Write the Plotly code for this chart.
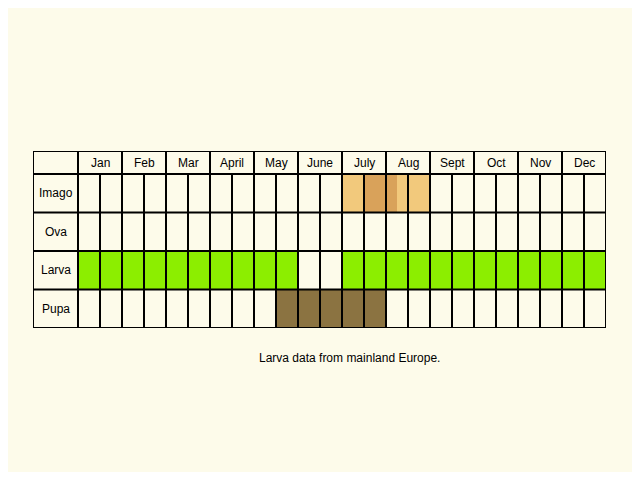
import plotly.graph_objects as go

months = ["Jan","Feb","Mar","April","May","June","July","Aug","Sept","Oct","Nov","Dec"]
stages = ["Imago","Ova","Larva","Pupa"]
# half-month cells (24 per row): colour code per half month
imago = [""]*12 + ["light","dark","split","light"] + [""]*8
ova = [""]*24
larva = ["green"]*10 + ["",""] + ["green"]*12
pupa = [""]*9 + ["brown"]*5 + [""]*10
rows = [imago, ova, larva, pupa]
colors = {"light": "#f2c97c", "dark": "#d9a25a", "green": "#8cee00", "brown": "#8b7341"}

BG = "#fdfbea"
LBL = 45/22.0
HDR = 23/38.5
fig = go.Figure()
shapes = []
annotations = []
for r, cells in enumerate(rows):
    y0 = 3 - r
    for i, c in enumerate(cells):
        if c == "split":
            shapes.append(dict(type="rect", x0=i, x1=i+0.5, y0=y0, y1=y0+1, fillcolor=colors["dark"], line_width=0, layer="below"))
            shapes.append(dict(type="rect", x0=i+0.5, x1=i+1, y0=y0, y1=y0+1, fillcolor=colors["light"], line_width=0, layer="below"))
        elif c:
            shapes.append(dict(type="rect", x0=i, x1=i+1, y0=y0, y1=y0+1, fillcolor=colors[c], line_width=0, layer="below"))
    annotations.append(dict(x=-LBL/2, y=y0+0.5, text=stages[r], showarrow=False, xref="x", yref="y",
                            font=dict(size=12, color="black")))
for m, name in enumerate(months):
    annotations.append(dict(x=2*m+1, y=4+HDR/2, text=name, showarrow=False, xref="x", yref="y",
                            font=dict(size=12, color="black")))
LW = 2
for y in [0, 1, 2, 3, 4, 4+HDR]:
    shapes.append(dict(type="line", x0=-LBL, x1=24, y0=y, y1=y, line=dict(color="black", width=LW)))
shapes.append(dict(type="line", x0=-LBL, x1=-LBL, y0=0, y1=4+HDR, line=dict(color="black", width=LW)))
for x in range(25):
    top = 4+HDR if x % 2 == 0 else 4
    shapes.append(dict(type="line", x0=x, x1=x, y0=0, y1=top, line=dict(color="black", width=LW)))

annotations.append(dict(x=0.552, y=0, yshift=-39, xref="paper", yref="paper",
                        text="Larva data from mainland Europe.", showarrow=False, font=dict(size=12, color="black")))
fig.update_layout(
    width=624, height=464, paper_bgcolor=BG, plot_bgcolor=BG,
    margin=dict(l=25, r=26, t=143, b=144),
    xaxis=dict(range=[-LBL, 24], visible=False, fixedrange=True),
    yaxis=dict(range=[0, 4+HDR], visible=False, fixedrange=True),
    shapes=shapes, annotations=annotations, showlegend=False,
    font=dict(family="Liberation Sans, Arial, sans-serif"),
)
fig.write_html("out.html")
